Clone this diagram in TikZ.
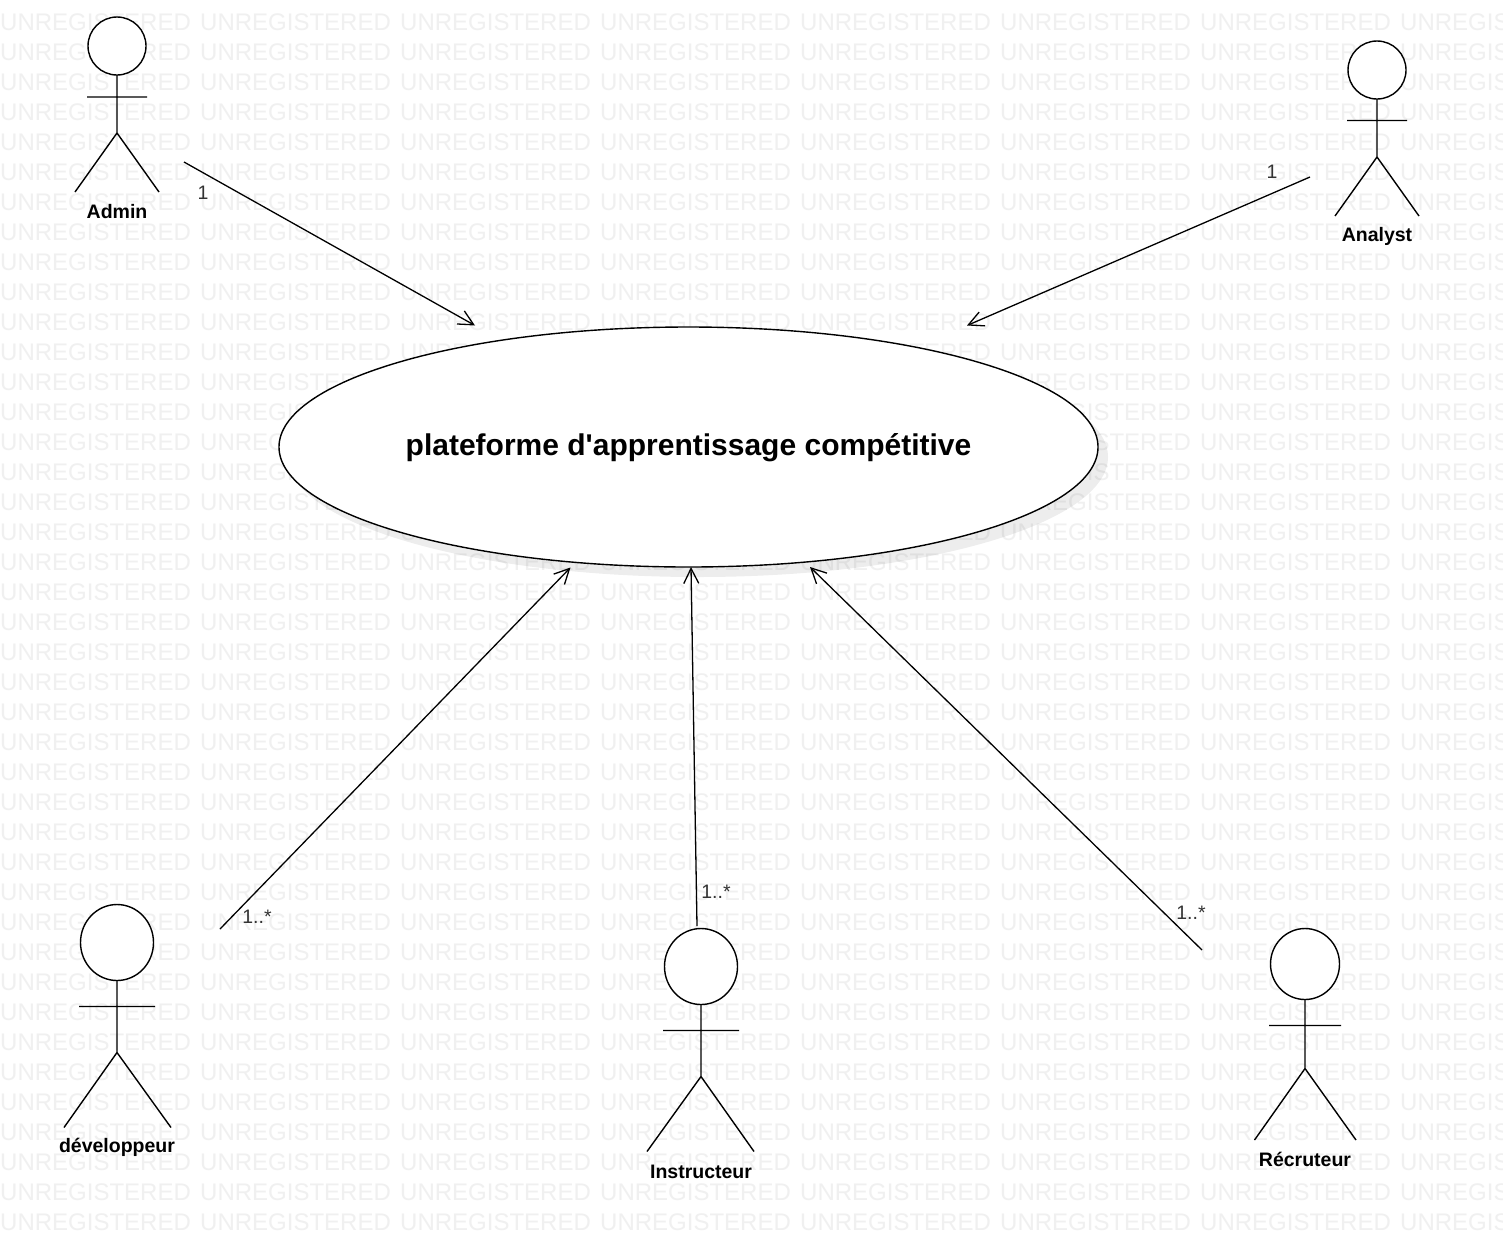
\documentclass[tikz,border=0pt]{standalone}
\usepackage{fontspec}
\setmainfont{Liberation Sans}
\newfontfamily\titlefont{Liberation Sans}
\usetikzlibrary{arrows.meta,shapes.geometric}
\tikzset{
  x=1pt,y=-1pt,
  watermark/.style={anchor=west,inner sep=0pt,text=black!6,font=\fontsize{24}{24}\selectfont},
  limb/.style={draw=black,line width=1.4pt},
  head/.style={draw=black,fill=white,line width=1.4pt},
  actorname/.style={inner sep=0pt,font=\fontsize{19.5}{20}\selectfont\bfseries},
  mult/.style={inner sep=0pt,text=black!80,font=\fontsize{19.5}{20}\selectfont},
  assoc/.style={draw=black,line width=1.3pt,-{Straight Barb[length=15pt,width=15pt,line width=1.3pt]}},
}
\begin{document}
\begin{tikzpicture}
\useasboundingbox (0,0) rectangle (1503,1251);
\fill[white] (0,0) rectangle (1503,1251);
\begin{scope}
\clip (0,0) rectangle (1503,1251);
\foreach \yy in {22,52,...,1222}{
  \foreach \xx in {0,200,...,1400}{
    \node[watermark] at (\xx,\yy) {UNREGISTERED};
  }
}
\end{scope}
% ellipse with shadow
\fill[black,opacity=0.07] (698,457) ellipse [x radius=410,y radius=120];
\node[draw=black,fill=white,line width=1.4pt,ellipse,minimum width=819pt,minimum height=240pt,inner sep=0pt] (platform) at (688.5,447) {};
\node[inner sep=0pt,font=\titlefont\fontsize{30}{31}\selectfont\bfseries] (title) at (688.5,448) {plateforme d'apprentissage compétitive};
% Admin
\draw[head] (117,46) circle [radius=29];
\draw[limb] (117,75) -- (117,133) (87,97) -- (147,97) (75,192) -- (117,133) -- (159,192);
\node[actorname] (admin) at (117,212) {Admin};
% Analyst
\draw[head] (1377,70) circle [radius=29];
\draw[limb] (1377,99) -- (1377,157) (1347,120.5) -- (1407,120.5) (1335,216) -- (1377,157) -- (1419,216);
\node[actorname] (analyst) at (1377,236.5) {Analyst};
% developpeur
\draw[head] (117,942.5) ellipse [x radius=36.5,y radius=38];
\draw[limb] (117,980.5) -- (117,1052.5) (79,1006.5) -- (155,1006.5) (64,1127.5) -- (117,1052.5) -- (171,1127.5);
\node[actorname] (dev) at (117,1147.5) {développeur};
% Instructeur
\draw[head] (701,966.5) ellipse [x radius=36.5,y radius=38];
\draw[limb] (701,1004.5) -- (701,1076.5) (663,1030.5) -- (739,1030.5) (647,1151.5) -- (701,1076.5) -- (754,1151.5);
\node[actorname] (inst) at (701,1171.5) {Instructeur};
% Recruteur
\draw[head] (1305,964) ellipse [x radius=34.5,y radius=35.5];
\draw[limb] (1305,999.5) -- (1305,1068.5) (1269,1025.5) -- (1341,1025.5) (1254.5,1140) -- (1305,1068.5) -- (1356,1140);
\node[actorname] (rec) at (1305,1159) {Récruteur};
% connector ends
\coordinate (adminEnd) at (184,162);
\coordinate (adminTip) at (475,325.5);
\coordinate (analystEnd) at (1310,177);
\coordinate (analystTip) at (967,325.5);
\coordinate (devEnd) at (220,929);
\coordinate (devTip) at (570.5,567.5);
\coordinate (instEnd) at (697,926);
\coordinate (instTip) at (691,567);
\coordinate (recEnd) at (1202,950);
\coordinate (recTip) at (810,567);
\draw[assoc] (adminEnd) -- (adminTip);
\draw[assoc] (analystEnd) -- (analystTip);
\draw[assoc] (devEnd) -- (devTip);
\draw[assoc] (instEnd) -- (instTip);
\draw[assoc] (recEnd) -- (recTip);
\node[mult] (m1) at (203,193) {1};
\node[mult] (m2) at (1272,172) {1};
\node[mult] (m3) at (257,917) {1..*};
\node[mult] (m4) at (716,892) {1..*};
\node[mult] (m5) at (1191,913) {1..*};
\end{tikzpicture}
\end{document}
